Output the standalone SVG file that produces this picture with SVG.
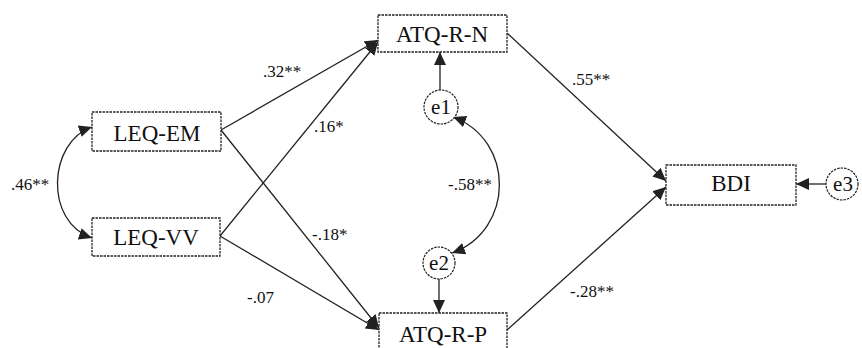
<svg xmlns="http://www.w3.org/2000/svg" width="862" height="348" viewBox="0 0 862 348">
<style>
.box{fill:#fff;stroke:#222;stroke-width:1.3;stroke-dasharray:2.5 1}
.circ{fill:#fff;stroke:#222;stroke-width:1.2;stroke-dasharray:2.5 1}
text{font-family:'Liberation Serif','DejaVu Serif',serif;fill:#111}
.lbl{font-size:23px;text-anchor:middle}
.elbl{font-size:21px;text-anchor:middle}
.coef{font-size:17px}
.edge{fill:none;stroke:#222;stroke-width:1.3}
</style>
<defs>
<marker id="ah" markerUnits="userSpaceOnUse" markerWidth="16" markerHeight="14" refX="13" refY="6" orient="auto-start-reverse">
<path d="M0,0 L13,6 L0,12 z" fill="#222"/>
</marker>
</defs>
<rect width="862" height="348" fill="#fff"/>
<g id="connectors">
<path class="edge" d="M221,130 L378,40" marker-end="url(#ah)"/>
<path class="edge" d="M221,130 L379,328" marker-end="url(#ah)"/>
<path class="edge" d="M220,236 L378,42" marker-end="url(#ah)"/>
<path class="edge" d="M220,236 L379,330" marker-end="url(#ah)"/>
<path class="edge" d="M507,33 L666,181" marker-end="url(#ah)"/>
<path class="edge" d="M507,330 L666,187" marker-end="url(#ah)"/>
<path class="edge" d="M440,90 L440,52" marker-end="url(#ah)"/>
<path class="edge" d="M439,279 L439,313" marker-end="url(#ah)"/>
<path class="edge" d="M826,184 L796,184" marker-end="url(#ah)"/>
<path class="edge" d="M92,127 C48,142 44,222 92,238" marker-start="url(#ah)" marker-end="url(#ah)"/>
<path class="edge" d="M453,117 C515,140 515,230 452,253" marker-start="url(#ah)" marker-end="url(#ah)"/>
<text class="coef" x="263" y="77" font-family="Liberation Serif, serif">.32**</text>
<text class="coef" x="314" y="132" font-family="Liberation Serif, serif">.16*</text>
<text class="coef" x="312" y="240" font-family="Liberation Serif, serif">-.18*</text>
<text class="coef" x="247" y="303" font-family="Liberation Serif, serif">-.07</text>
<text class="coef" x="572" y="85" font-family="Liberation Serif, serif">.55**</text>
<text class="coef" x="570" y="297" font-family="Liberation Serif, serif">-.28**</text>
<text class="coef" x="448" y="190" font-family="Liberation Serif, serif">-.58**</text>
<text class="coef" x="11" y="190" font-family="Liberation Serif, serif">.46**</text>
</g>
<g id="LEQ-EM"><rect class="box" x="92" y="112" width="129" height="39"/><text class="lbl" x="157" y="141" font-family="Liberation Serif, serif">LEQ-EM</text></g>
<g id="LEQ-VV"><rect class="box" x="92" y="218" width="128" height="38"/><text class="lbl" x="156" y="245" font-family="Liberation Serif, serif">LEQ-VV</text></g>
<g id="ATQ-R-N"><rect class="box" x="378" y="15" width="129" height="37"/><text class="lbl" x="442" y="42" font-family="Liberation Serif, serif">ATQ-R-N</text></g>
<g id="ATQ-R-P"><rect class="box" x="379" y="313" width="128" height="38"/><text class="lbl" x="443" y="342" font-family="Liberation Serif, serif">ATQ-R-P</text></g>
<g id="BDI"><rect class="box" x="666" y="165" width="130" height="40"/><text class="lbl" x="731" y="191" font-family="Liberation Serif, serif">BDI</text></g>
<g id="e1"><circle class="circ" cx="441" cy="107" r="17"/><text class="elbl" x="441" y="114" font-family="Liberation Serif, serif">e1</text></g>
<g id="e2"><circle class="circ" cx="439" cy="263" r="16"/><text class="elbl" x="439" y="270" font-family="Liberation Serif, serif">e2</text></g>
<g id="e3"><circle class="circ" cx="842" cy="184" r="16"/><text class="elbl" x="843" y="191" font-family="Liberation Serif, serif">e3</text></g>
</svg>
